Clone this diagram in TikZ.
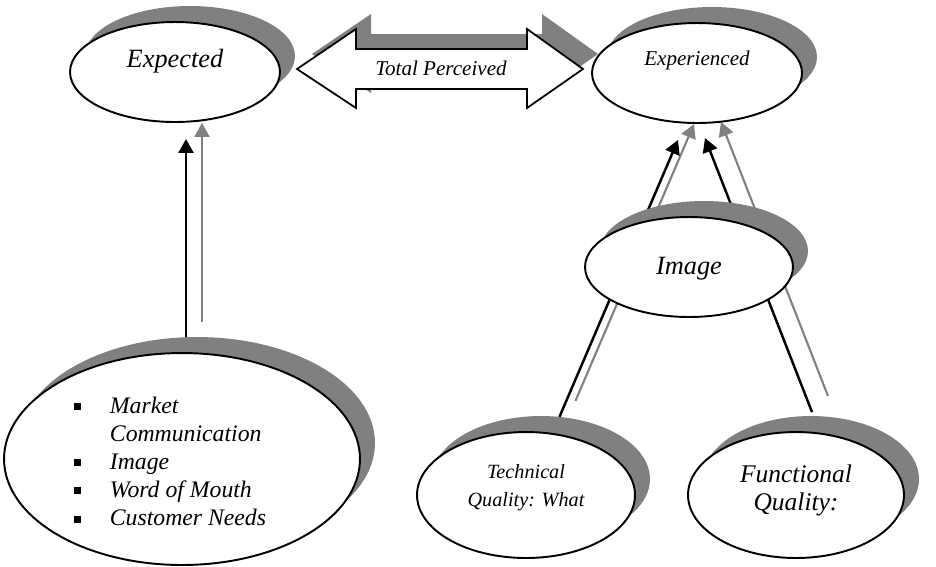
\documentclass[tikz,border=0pt]{standalone}
\usepackage{fontspec}
\setmainfont{Liberation Serif}
\usetikzlibrary{shapes.geometric,shadows,arrows.meta,calc}
\pgfdeclarelayer{background}
\pgfsetlayers{background,main}
\newcommand{\sqbul}{\raisebox{0.3ex}{\rule{0.14cm}{0.14cm}}}
\tikzset{
  bubble/.style={ellipse, draw, line width=1.1pt, fill=white, inner sep=0pt,
    drop shadow={shadow xshift=0.3cm, shadow yshift=0.32cm, fill=black!50, opacity=1}},
  conn/.style={line width=1.4pt, -{Triangle[length=0.28cm,width=0.3cm]},
    preaction={draw=black!50, line width=1.2pt, transform canvas={shift={(0.32cm,0.32cm)}}}},
  bigarrow/.style={line width=1pt, fill=white,
    preaction={fill=black!50, draw=none, transform canvas={shift={(0.3cm,0.3cm)}}}}
}

\begin{document}
\begin{tikzpicture}[x=0.02cm,y=-0.02cm]
\useasboundingbox (0,0) rectangle (936,566);

% block arrow between the two top ellipses
\draw[bigarrow] (297,69) -- (356,29) -- (356,49) -- (527,49) -- (527,29) -- (583,69)
  -- (527,108) -- (527,89) -- (356,89) -- (356,108) -- cycle;
\node[font=\itshape\fontsize{12}{14}\selectfont] (total) at (441,68) {Total Perceived};

% ellipses
\node[bubble, minimum width=4.2cm, minimum height=2cm,
  label={[font=\itshape\fontsize{15}{18}\selectfont, yshift=0.22cm]center:Expected}] (exp) at (175,72) {};
\node[bubble, minimum width=4.2cm, minimum height=2cm,
  label={[font=\itshape\fontsize{12}{14}\selectfont, yshift=0.26cm]center:Experienced}] (expr) at (697,73) {};
\node[bubble, minimum width=4.16cm, minimum height=2cm,
  label={[font=\itshape\fontsize{15}{18}\selectfont, yshift=-0.04cm]center:Image}] (img) at (689,267) {};
\node[bubble, minimum width=7.12cm, minimum height=4.24cm] (mkt) at (182,459) {};
\node[bubble, minimum width=4.36cm, minimum height=2.52cm,
  label={[font=\itshape\fontsize{11.5}{16}\selectfont, align=center, yshift=0.14cm]center:{Technical\\Quality: What}}] (tech) at (526,495) {};
\node[bubble, minimum width=4.32cm, minimum height=2.52cm,
  label={[font=\itshape\fontsize{14.5}{16}\selectfont, align=center, yshift=0.1cm]center:{Functional\\Quality:}}] (func) at (796,495) {};

\node[font=\itshape\fontsize{13.5}{16}\selectfont] (mktlist) at ([xshift=-0.24cm,yshift=-0.1cm]mkt.center) {%
  \begin{tabular}{@{}l@{\hspace{0.58cm}}l@{}}
  \sqbul & Market\\
         & Communication\\
  \sqbul & Image\\
  \sqbul & Word of Mouth\\
  \sqbul & Customer Needs
  \end{tabular}};

% connectors, behind the ellipses
\begin{pgfonlayer}{background}
\coordinate (mktout) at ($(mkt.north)+(4,-14)$);
\coordinate (tipa) at ($(exp.south)+(11,16)$);
\draw[conn] (mktout) -- (tipa);
\coordinate (tipb) at ($(expr)+(-19,67)$);
\draw[conn] ($(tech.center)!0.22!(tipb)$) -- (tipb);
\coordinate (funcout) at ($(func.north)+(16,-19)$);
\coordinate (tipc) at ($(expr)+(8,65)$);
\draw[conn] (funcout) -- (tipc);
\end{pgfonlayer}
\end{tikzpicture}
\end{document}
